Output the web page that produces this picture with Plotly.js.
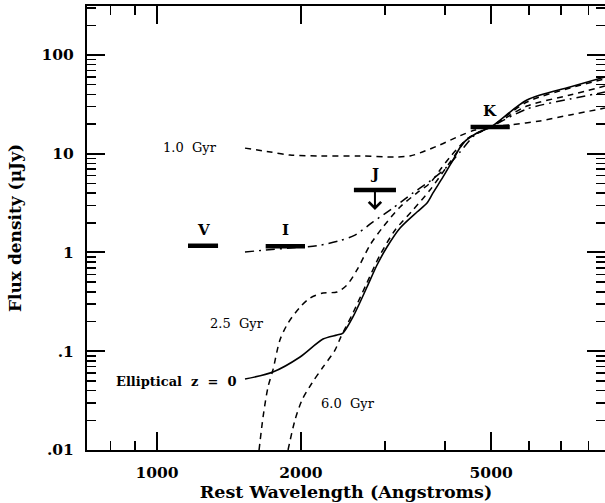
<!DOCTYPE html>
<html>
<head>
<meta charset="utf-8">
<script src="https://cdn.plot.ly/plotly-3.0.1.min.js"></script>
<style>html,body{margin:0;padding:0;background:#fff;}</style>
</head>
<body>
<div id="chart" style="width:605px;height:503px;"></div>
<script>
// ---- Data (rest wavelength in Angstroms, flux density in microJy) ----
const ellWave = [1528, 1748, 1992, 2225, 2380, 2449, 2570, 2750, 2886, 3028, 3225, 3499, 3672, 3779, 3966, 4162, 4368, 4671, 4996, 5942, 7311, 8652];
const ellFlux = [0.0523, 0.0616, 0.0874, 0.133, 0.146, 0.153, 0.223, 0.447, 0.747, 1.136, 1.77, 2.57, 3.17, 4.01, 5.82, 8.64, 12.8, 16.2, 18.7, 35.0, 47.4, 59.9];

const gyr6Wave = [1880, 1944, 2011, 2110, 2225, 2357, 2425, 2570, 2736, 2928, 3150, 3432, 3725, 4102, 4480, 4996, 5942, 7311, 8652];
const gyr6Flux = [0.01, 0.0201, 0.0321, 0.0477, 0.0692, 0.1026, 0.140, 0.244, 0.469, 0.943, 1.69, 2.70, 4.29, 8.2, 14.4, 18.7, 33.4, 46.3, 57.2];

const gyr25Wave = [1635, 1667, 1707, 1748, 1808, 1880, 1992, 2090, 2225, 2380, 2497, 2620, 2790, 2970, 3225, 3499, 3725, 3909, 4102, 4480, 4996, 5942, 7311, 8652];
const gyr25Flux = [0.01, 0.0216, 0.0434, 0.0646, 0.130, 0.193, 0.280, 0.346, 0.389, 0.398, 0.469, 0.665, 1.19, 1.81, 2.89, 4.01, 5.05, 6.84, 9.27, 14.4, 18.7, 30.4, 39.3, 48.5];

const ddWave = [1528, 1688, 1898, 2160, 2414, 2595, 2831, 3117, 3432, 3725, 4040, 4305, 4627, 4996, 5942, 7311, 8652];
const ddFlux = [1.01, 1.06, 1.11, 1.17, 1.32, 1.50, 2.04, 2.82, 4.01, 5.29, 7.34, 10.4, 15.5, 18.7, 28.4, 35.8, 42.1];

const gyr1Wave = [1528, 1728, 1898, 2205, 2659, 3150, 3383, 3550, 3909, 4305, 4627, 4996, 5477, 6330, 7311, 8652];
const gyr1Flux = [11.4, 10.4, 9.7, 9.49, 9.49, 9.27, 9.49, 10.2, 12.3, 15.2, 17.4, 18.7, 19.6, 21.5, 24.7, 29.0];

// Photometric bands: name, rest-frame wavelength span, flux
const bandNames = ["V", "I", "J", "K"];
const bandLo = [1161, 1688, 2582, 4529];
const bandHi = [1342, 2040, 3162, 5470];
const bandFlux = [1.17, 1.16, 4.30, 18.7];
const bandUpperLimit = [false, false, true, false];
const jArrowTip = 2.69;

// Curve labels
const curveLabels = ["1.0\u00a0\u00a0Gyr", "2.5\u00a0\u00a0Gyr", "Elliptical\u00a0\u00a0z\u00a0\u00a0=\u00a0\u00a00", "6.0\u00a0\u00a0Gyr"];
const curveLabelX = [1172, 1469, 1097, 2509];
const curveLabelY = [11.7, 0.189, 0.0489, 0.0299];

// Axis ticks
const xMajor = [1000, 2000, 5000];
const xMajorText = ["1000", "2000", "5000"];
const xMinor = [800, 900, 3000, 4000, 6000, 7000, 8000];
const yMajor = [0.01, 0.1, 1, 10, 100];
const yMajorText = [".01", ".1", "1", "10", "100"];
const yMinor = [];
[0.01, 0.1, 1, 10, 100].forEach(d => { for (let k = 2; k <= 9; k++) { if (d * k < 320) yMinor.push(+(d * k).toPrecision(3)); } });

const black = "#000";
const traces = [
  {x: ellWave, y: ellFlux, mode: "lines", line: {color: black, width: 1.6, shape: "spline", smoothing: 0.8}},
  {x: gyr6Wave, y: gyr6Flux, mode: "lines", line: {color: black, width: 1.5, dash: "6px,5px", shape: "spline", smoothing: 0.8}},
  {x: gyr25Wave, y: gyr25Flux, mode: "lines", line: {color: black, width: 1.5, dash: "6px,5px", shape: "spline", smoothing: 0.8}},
  {x: ddWave, y: ddFlux, mode: "lines", line: {color: black, width: 1.5, dash: "9px,5px,2px,5px", shape: "spline", smoothing: 0.8}},
  {x: gyr1Wave, y: gyr1Flux, mode: "lines", line: {color: black, width: 1.5, dash: "6px,5px", shape: "spline", smoothing: 0.8}}
];
bandNames.forEach((n, i) => {
  traces.push({x: [bandLo[i], bandHi[i]], y: [bandFlux[i], bandFlux[i]], mode: "lines",
    line: {color: black, width: 4.5}});
});

const serif = "DejaVu Serif";
const annotations = [];
bandNames.forEach((n, i) => {
  const c = Math.sqrt(bandLo[i] * bandHi[i]);
  annotations.push({x: Math.log10(c), y: Math.log10(bandFlux[i]), xref: "x", yref: "y",
    text: n, showarrow: false, yshift: 16, font: {family: serif, size: 15, weight: "bold", color: black}});
  if (bandUpperLimit[i]) {
    annotations.push({x: Math.log10(c), y: Math.log10(jArrowTip), xref: "x", yref: "y",
      ax: Math.log10(c), ay: Math.log10(bandFlux[i]), axref: "x", ayref: "y",
      showarrow: true, arrowhead: 4, arrowsize: 1.2, arrowwidth: 2, arrowcolor: black, text: ""});
  }
});
curveLabels.forEach((t, i) => {
  annotations.push({x: Math.log10(curveLabelX[i]), y: Math.log10(curveLabelY[i]), xref: "x", yref: "y",
    text: t, showarrow: false,
    font: {family: serif, size: 13, weight: i === 2 ? "bold" : "normal", color: black}});
});

const axisCommon = {
  type: "log", showline: true, linewidth: 2, linecolor: black, mirror: "ticks",
  ticks: "inside", ticklen: 18, tickwidth: 2, tickcolor: black, showgrid: false, zeroline: false,
  tickmode: "array", tickfont: {family: serif, size: 15.5, weight: "bold", color: black}
};

const layout = {
  width: 605, height: 503,
  margin: {l: 87, r: 0, t: 6, b: 53},
  paper_bgcolor: "#fff", plot_bgcolor: "#fff",
  showlegend: false,
  xaxis: Object.assign({}, axisCommon, {
    range: [2.8536, 3.9372], tickvals: xMajor, ticktext: xMajorText, ticklabelstandoff: 7,
    minor: {tickmode: "array", tickvals: xMinor, ticks: "inside", ticklen: 9, tickwidth: 1.5, tickcolor: black},
    title: {text: "Rest Wavelength (Angstroms)", standoff: 1, font: {family: serif, size: 17.5, weight: "bold", color: black}}
  }),
  yaxis: Object.assign({}, axisCommon, {
    range: [-2, 2.496], tickvals: yMajor, ticktext: yMajorText, ticklabelstandoff: 8,
    minor: {tickmode: "array", tickvals: yMinor, ticks: "inside", ticklen: 9, tickwidth: 1.5, tickcolor: black},
    title: {text: "Flux density (\u03bcJy)", standoff: 16, font: {family: serif, size: 17, weight: "bold", color: black}}
  }),
  annotations: annotations
};

Plotly.newPlot("chart", traces, layout, {staticPlot: true, displayModeBar: false});
</script>
</body>
</html>
